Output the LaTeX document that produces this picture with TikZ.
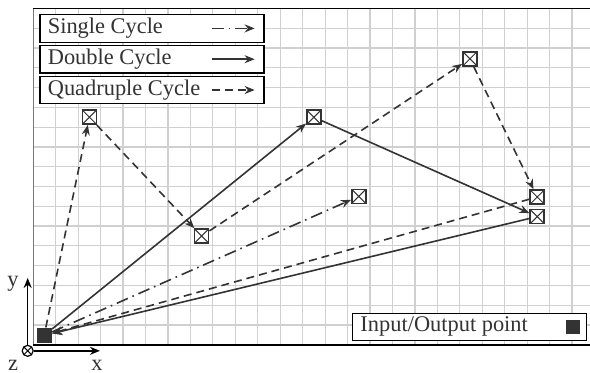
\documentclass[tikz,border=0pt]{standalone}
\usepackage{fontspec}
\setmainfont{Liberation Serif}
\usetikzlibrary{positioning,arrows.meta}
\definecolor{pathDark}{RGB}{51,51,51}
\definecolor{gridGray}{RGB}{208,208,208}
\definecolor{frameGray}{RGB}{120,120,120}

\tikzset{
  tip/.style={-{Stealth[length=5pt,width=4pt]}},
  waypoint/.style={draw=pathDark,fill=white,line width=0.8pt,minimum size=7pt,inner sep=0pt,
    path picture={\draw[pathDark,line width=0.5pt]
      (path picture bounding box.south west) -- (path picture bounding box.north east)
      (path picture bounding box.north west) -- (path picture bounding box.south east);}},
  legendbox/.style={draw=black,fill=white,line width=0.6pt,minimum width=112pt,minimum height=13.8pt,inner sep=0pt},
  singlecyc/.style={pathDark,line width=0.8pt,dash pattern=on 6pt off 2.5pt on 0.8pt off 2.5pt,tip},
  doublecyc/.style={pathDark,line width=0.8pt,tip},
  quadcyc/.style={pathDark,line width=0.8pt,dash pattern=on 4pt off 2.5pt,tip},
  axislabel/.style={text=pathDark,inner sep=0pt},
}

\begin{document}
\begin{tikzpicture}[x=11.225pt,y=9.9pt,font=\fontsize{11.2}{13}\selectfont]
        \useasboundingbox (-1.483,-1.414) rectangle (24.8,17.42);
        % grid and frame
        \foreach \gx in {1,...,24} \draw[gridGray,line width=0.6pt] (\gx,0) -- (\gx,17);
        \foreach \gy in {1,...,16} \draw[gridGray,line width=0.6pt] (0,\gy) -- (24.8,\gy);
        \draw[frameGray,line width=0.7pt] (0,0) -- (0,17);
        \draw[black,line width=0.7pt] (0,17) -- (24.8,17);
        \draw[black,line width=0.7pt] (0,0) -- (24.8,0);
        % input/output point and waypoints
        \node[fill=pathDark,minimum size=7.5pt,inner sep=0pt] (io) at (0.485,0.48) {};
        \node[waypoint] (quadA) at (2.5,11.5) {};
        \node[waypoint] (quadB) at (7.5,5.5) {};
        \node[waypoint] (dblTop) at (12.5,11.5) {};
        \node[waypoint] (single) at (14.5,7.5) {};
        \node[waypoint] (quadTop) at (19.45,14.45) {};
        \node[waypoint] (rightUp) at (22.45,7.47) {};
        \node[waypoint] (rightLow) at (22.45,6.48) {};
        % cycles
        \draw[singlecyc] (io) -- (single);
        \draw[doublecyc] (io) -- (dblTop);
        \draw[doublecyc] (dblTop) -- (rightLow);
        \draw[doublecyc] (rightLow) -- (io);
        \draw[quadcyc] (io) -- (quadA);
        \draw[quadcyc] (quadA) -- (quadB);
        \draw[quadcyc] (quadB) -- (quadTop);
        \draw[quadcyc] (quadTop) -- (rightUp);
        \draw[quadcyc] (rightUp) -- (io);
        % legend
        \node[legendbox] (legSingle) at (5.29,15.985) {};
        \node[legendbox,below=1pt of legSingle] (legDouble) {};
        \node[legendbox,below=1pt of legDouble] (legQuad) {};
        \foreach \legname/\lbl/\sty in {legSingle/Single Cycle/singlecyc, legDouble/Double Cycle/doublecyc, legQuad/Quadruple Cycle/quadcyc} {
          \node[anchor=west,inner sep=0pt,text=pathDark] at ([xshift=4pt]\legname.west) {\lbl};
          \draw[\sty] ([xshift=-26.5pt]\legname.east) -- ([xshift=-5pt]\legname.east);
        }
        \node[legendbox,minimum width=117pt,minimum height=13.7pt] (legIO) at (19.44,0.91) {};
        \node[anchor=west,inner sep=0pt,text=pathDark] at ([xshift=4pt]legIO.west) {Input/Output point};
        \node[fill=pathDark,minimum size=7pt,inner sep=0pt] (legIOmark) at ([xshift=-7pt]legIO.east) {};
        % axes
        \node[circle,draw=black,line width=0.6pt,minimum size=5.5pt,inner sep=0pt,
          path picture={\draw[line width=0.5pt] (path picture bounding box.south west) -- (path picture bounding box.north east)
            (path picture bounding box.north west) -- (path picture bounding box.south east);}] (zaxis) at (-0.25,-0.30) {};
        \coordinate (yTip) at (-0.25,3.38);
        \coordinate (xTip) at (2.97,-0.30);
        \draw[black,line width=0.7pt,tip] (zaxis) -- (yTip);
        \draw[black,line width=0.7pt,tip] (zaxis) -- (xTip);
        \node[axislabel] (ylbl) at (-0.9,3.1) {y};
        \node[axislabel] (xlbl) at (2.84,-1.05) {x};
        \node[axislabel] (zlbl) at (-0.9,-1.05) {z};
      \end{tikzpicture}
\end{document}
